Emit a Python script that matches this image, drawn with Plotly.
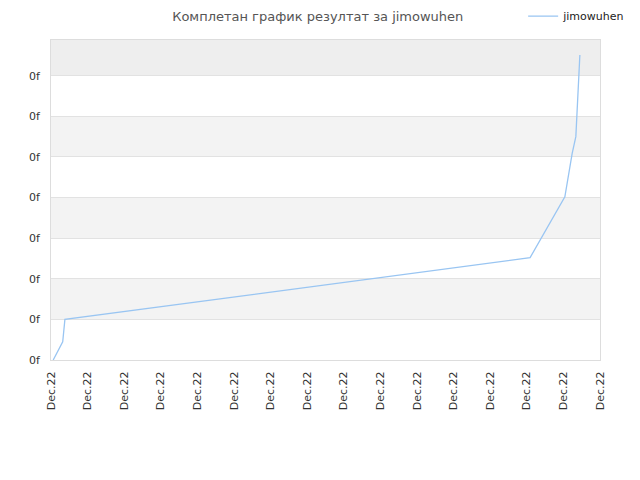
import plotly.graph_objects as go

# tick positions and labels
x_ticks = list(range(16))
x_labels = ["Dec.22"] * 16
y_ticks = list(range(8))
y_labels = ["0f"] * 8

# series jimowuhen
x_vals = [0.06, 0.32, 0.38, 13.09, 14.04, 14.24, 14.34, 14.38, 14.43, 14.45]
y_vals = [0.0, 0.45, 1.0, 2.52, 4.02, 5.09, 5.50, 6.24, 6.98, 7.51]

y_top = 7.88

fig = go.Figure()
fig.add_trace(go.Scatter(x=x_vals, y=y_vals, mode="lines", name="jimowuhen",
                         line=dict(color="#99c5f2", width=1.3)))

# alternating bands between the y ticks
bands = y_ticks + [y_top]
for i in range(len(bands) - 1):
    if i % 2 == 1:
        col = "#eeeeee" if i == len(bands) - 2 else "#f3f3f3"
        fig.add_shape(type="rect", xref="paper", yref="y", x0=0, x1=1,
                      y0=bands[i], y1=bands[i + 1], fillcolor=col,
                      line_width=0, layer="below")

# page body has an 8px margin, so margins are shifted by that much
fig.update_layout(
    width=640, height=480,
    margin=dict(l=43, r=48, t=32, b=128),
    paper_bgcolor="white", plot_bgcolor="white",
    font=dict(family="DejaVu Sans", size=11, color="#333333"),
    title=dict(text="Комплетан график резултат за jimowuhen", x=0.484, xref="container",
               y=0.982, yref="container", yanchor="middle",
               font=dict(size=13, color="#555555")),
    showlegend=True,
    legend=dict(x=0.86, xanchor="left", y=0.983, yref="container", yanchor="middle",
                font=dict(size=11, color="#222222"), bgcolor="rgba(0,0,0,0)"),
    xaxis=dict(range=[0, 15], tickvals=x_ticks, ticktext=x_labels, tickangle=-90,
               showgrid=False, zeroline=False, showline=True, linecolor="#dddddd",
               mirror=True, ticks="", ticklabelstandoff=6, automargin=False,
               tickfont=dict(size=11, color="#333333")),
    yaxis=dict(range=[0, y_top], tickvals=y_ticks, ticktext=y_labels,
               showgrid=True, gridcolor="#e2e2e2", zeroline=False, showline=True,
               linecolor="#dddddd", mirror=True, ticks="", ticklabelstandoff=8,
               automargin=False, tickfont=dict(size=11, color="#333333")),
)

fig.write_html("out.html")
